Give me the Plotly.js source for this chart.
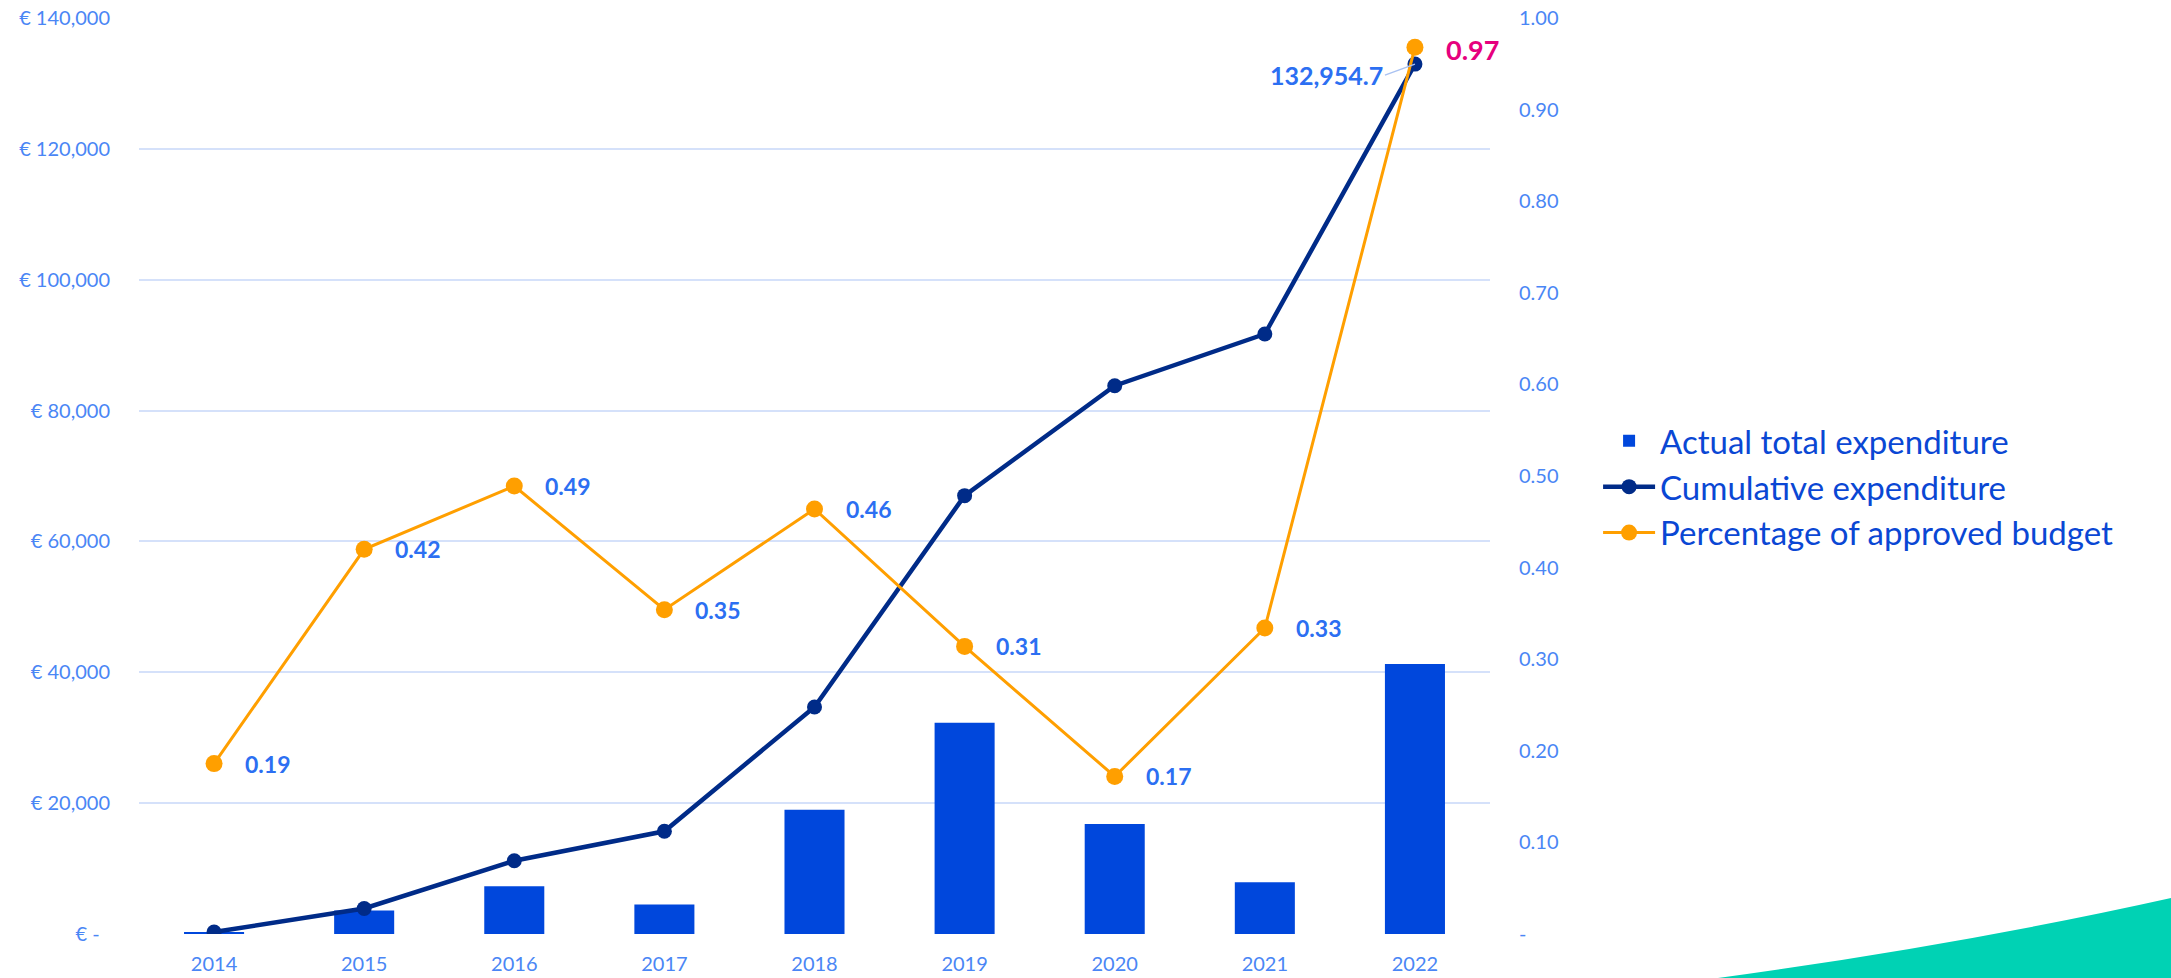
<!DOCTYPE html>
<html>
<head>
<meta charset="utf-8">
<script src="https://cdn.plot.ly/plotly-3.0.1.min.js"></script>
<style>
  html, body { margin: 0; padding: 0; background: #ffffff; }
  #wrap { position: relative; width: 2171px; height: 978px; overflow: hidden; }
  #chart { position: absolute; left: 0; top: 0; width: 2171px; height: 978px; }
  #deco { position: absolute; left: 0; top: 0; pointer-events: none; }
</style>
</head>
<body>
<div id="wrap">
  <svg id="deco" width="2171" height="978">
    <path d="M 1718 978 Q 1960 945 2171 898 L 2171 978 Z" fill="#00d2b4"/>
  </svg>
  <div id="chart"></div>
</div>
<script>
// ---- data ----
const years = ['2014', '2015', '2016', '2017', '2018', '2019', '2020', '2021', '2022'];
const actualExpenditure = [300, 3600, 7300, 4500, 19000, 32300, 16800, 7900, 41250];
const cumulativeExpenditure = [300, 3900, 11200, 15700, 34700, 67000, 83800, 91700, 132954.7];
const pctApproved = [0.186, 0.42, 0.489, 0.354, 0.464, 0.314, 0.172, 0.334, 0.968];
const pctLabels = ['0.19', '0.42', '0.49', '0.35', '0.46', '0.31', '0.17', '0.33', '0.97'];
const cumLabel = '132,954.7';

const leftTickVals = [0, 20000, 40000, 60000, 80000, 100000, 120000, 140000];
const leftTickText = ['€ -\u00a0\u00a0', '€ 20,000', '€ 40,000', '€ 60,000', '€ 80,000', '€ 100,000', '€ 120,000', '€ 140,000'];
const rightTickVals = [0, 0.1, 0.2, 0.3, 0.4, 0.5, 0.6, 0.7, 0.8, 0.9, 1.0];
const rightTickText = ['-', '0.10', '0.20', '0.30', '0.40', '0.50', '0.60', '0.70', '0.80', '0.90', '1.00'];

// ---- styles ----
const FONT = 'Lato, Noto Sans, sans-serif';
const TICK_COLOR = '#4a86f5';
const LABEL_COLOR = '#2c6ff2';

const traces = [
  {
    type: 'bar', name: 'Actual total expenditure',
    x: years, y: actualExpenditure,
    marker: { color: '#0047dc' }, width: 0.4,
    yaxis: 'y'
  },
  {
    type: 'scatter', mode: 'lines+markers', name: 'Cumulative expenditure',
    x: years, y: cumulativeExpenditure,
    line: { color: '#002b88', width: 4.5 },
    marker: { color: '#002b88', size: 15 },
    yaxis: 'y'
  },
  {
    type: 'scatter', mode: 'lines+markers', name: 'Percentage of approved budget',
    x: years, y: pctApproved,
    line: { color: '#ff9f00', width: 3 },
    marker: { color: '#ff9f00', size: 17 },
    yaxis: 'y2'
  }
];

const annotations = [];
for (let i = 0; i < years.length; i++) {
  const last = i === years.length - 1;
  annotations.push({
    x: i, y: pctApproved[i], xref: 'x', yref: 'y2',
    text: '<b>' + pctLabels[i] + '</b>', showarrow: false,
    xanchor: 'left', yanchor: 'middle', xshift: 29, yshift: last ? -2 : 0,
    font: { family: FONT, size: last ? 27 : 23, color: last ? '#e6007e' : LABEL_COLOR }
  });
}
annotations.push({
  x: years.length - 1, y: cumulativeExpenditure[cumulativeExpenditure.length - 1],
  xref: 'x', yref: 'y',
  text: '<b>' + cumLabel + '</b>', showarrow: true, arrowhead: 0, arrowwidth: 1.5,
  arrowcolor: '#a9c2f2', ax: -30, ay: 11, xanchor: 'right', yanchor: 'middle',
  font: { family: FONT, size: 25, color: LABEL_COLOR }
});

const layout = {
  width: 2171, height: 978,
  margin: { l: 139, r: 681, t: 18, b: 44, pad: 0 },
  paper_bgcolor: 'rgba(0,0,0,0)', plot_bgcolor: 'rgba(0,0,0,0)',
  font: { family: FONT, color: TICK_COLOR, size: 20 },
  showlegend: true,
  xaxis: {
    type: 'category', range: [-0.5, 8.5],
    showgrid: false, zeroline: false, showline: false,
    ticks: '', ticklabelstandoff: 16,
    tickfont: { family: FONT, size: 20, color: TICK_COLOR }
  },
  yaxis: {
    range: [0, 140000], tickvals: leftTickVals, ticktext: leftTickText,
    showgrid: true, gridcolor: '#d5e1fa', gridwidth: 2,
    zeroline: false, showline: false, ticks: '', ticklabelstandoff: 28,
    tickfont: { family: FONT, size: 20, color: TICK_COLOR }
  },
  yaxis2: {
    overlaying: 'y', side: 'right', range: [0, 1.0],
    tickvals: rightTickVals, ticktext: rightTickText,
    showgrid: false, zeroline: false, showline: false, ticks: '', ticklabelstandoff: 28,
    tickfont: { family: FONT, size: 20, color: TICK_COLOR }
  },
  legend: {
    x: 1.08, xanchor: 'left', y: 0.569, yanchor: 'top',
    font: { family: FONT, size: 33, color: '#0a47d4' },
    bgcolor: 'rgba(0,0,0,0)', itemwidth: 52
  },
  annotations: annotations
};

Plotly.newPlot('chart', traces, layout, { displayModeBar: false, staticPlot: true });
</script>
</body>
</html>
